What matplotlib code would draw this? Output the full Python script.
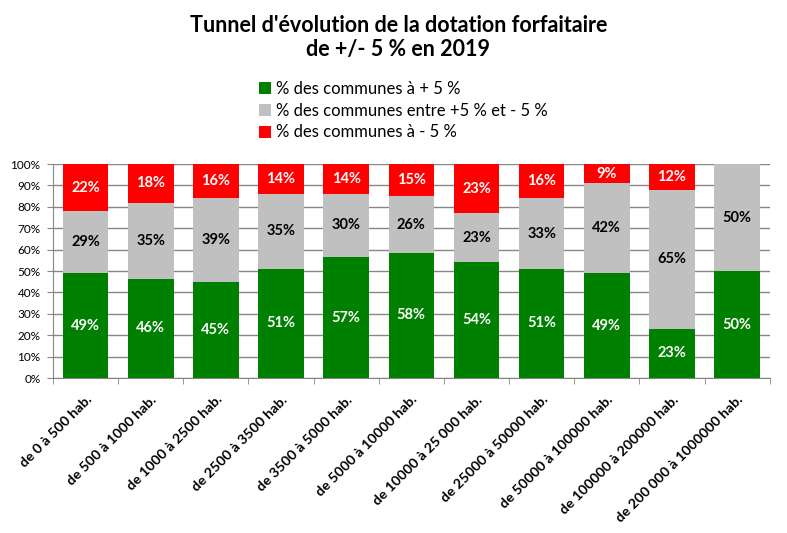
import numpy as np
import matplotlib.pyplot as plt

categories = ['de 0 à 500 hab.', 'de 500 à 1000 hab.', 'de 1000 à 2500 hab.',
              'de 2500 à 3500 hab.', 'de 3500 à 5000 hab.', 'de 5000 à 10000 hab.',
              'de 10000 à 25 000 hab.', 'de 25000 à 50000 hab.', 'de 50000 à 100000 hab.',
              'de 100000 à 200000 hab.', 'de 200 000 à 1000000 hab.']
plus5 = [49, 46, 45, 51, 57, 58, 54, 51, 49, 23, 50]
entre = [29, 35, 39, 35, 30, 26, 23, 33, 42, 65, 50]
moins5 = [22, 18, 16, 14, 14, 15, 23, 16, 9, 12, 0]

series = [
    ('% des communes à + 5 %', plus5, '#008000', 'white'),
    ('% des communes entre +5 % et - 5 %', entre, '#C0C0C0', 'black'),
    ('% des communes à - 5 %', moins5, '#FF0000', 'white'),
]

plt.rcParams['font.family'] = ['Lato', 'DejaVu Sans']

fig = plt.figure(figsize=(7.87, 5.33), dpi=100)
ax = fig.add_axes([0.0673, 0.2908, 0.9107, 0.4015])

totals = np.array(plus5) + np.array(entre) + np.array(moins5)
x = np.arange(len(categories))
bottom = np.zeros(len(categories))
for name, vals, col, tcol in series:
    h = np.array(vals) / totals * 100
    ax.bar(x, h, 0.7, bottom=bottom, color=col, label=name, zorder=3)
    for xi, b, hi, v in zip(x, bottom, h, vals):
        if v > 0:
            ax.text(xi, b + hi / 2, f'{v}%', ha='center', va='center',
                    color=tcol, fontsize=10.5, fontweight='bold', zorder=4)
    bottom += h

ax.set_xlim(-0.5, len(categories) - 0.5)
ax.set_ylim(0, 100)
ax.set_yticks(np.arange(0, 101, 10))
ax.set_yticklabels([f'{v}%' for v in range(0, 101, 10)], fontsize=8.5)
ax.yaxis.grid(True, color='#868686', linewidth=1, zorder=0)
ax.tick_params(axis='y', length=4, color='#868686', direction='out', pad=5)

ax.set_xticks(np.arange(-0.5, len(categories), 1), minor=True)
ax.set_xticks(x)
ax.set_xticklabels(categories, rotation=45, ha='right', va='top',
                   rotation_mode='anchor', fontsize=10.2, fontweight='bold')
ax.tick_params(axis='x', which='major', length=0, pad=11)
ax.tick_params(axis='x', which='minor', length=4, color='#868686', direction='out')

for s in ['top', 'right']:
    ax.spines[s].set_visible(False)
for s in ['left', 'bottom']:
    ax.spines[s].set_color('#868686')

fig.text(0.506, 0.93, "Tunnel d'évolution de la dotation forfaitaire\nde +/- 5 % en 2019",
         ha='center', va='center', fontsize=15.5, fontweight='bold', linespacing=1.2)

handles, labels = ax.get_legend_handles_labels()
fig.legend(handles, labels, loc='upper left', bbox_to_anchor=(0.318, 0.864),
           frameon=False, fontsize=12, handlelength=0.75, handleheight=0.75,
           handletextpad=0.3, labelspacing=0.35, borderpad=0)

fig.savefig('out.png', dpi=100)
